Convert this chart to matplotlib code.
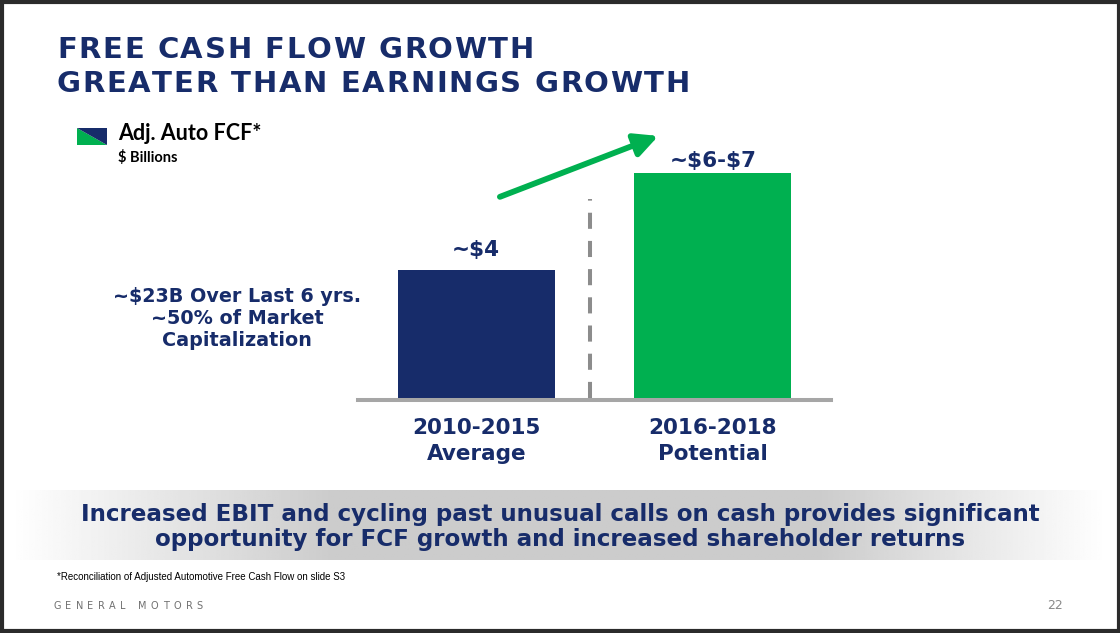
#!/usr/bin/env python3
"""GM slide 22: Adj. Auto FCF, 2010-2015 average vs 2016-2018 potential."""
import matplotlib
matplotlib.use("Agg")
import matplotlib.pyplot as plt
import numpy as np
from matplotlib.font_manager import FontProperties
from matplotlib.patches import Polygon, Rectangle, FancyArrowPatch
from matplotlib.textpath import text_to_path

W, H, DPI = 1120, 633, 100
NAVY = "#172c6a"
GREEN = "#00b050"
GRAY = "#a6a6a6"

CATEGORIES = ["2010-2015\nAverage", "2016-2018\nPotential"]
VALUES = [4.0, 7.0]
VALUE_LABELS = ["~$4", "~$6-$7"]
BAR_COLORS = [NAVY, GREEN]

TITLE = ["FREE CASH FLOW GROWTH", "GREATER THAN EARNINGS GROWTH"]
SIDE_NOTE = "~$23B Over Last 6 yrs.\n~50% of Market\nCapitalization"
BANNER = ("Increased EBIT and cycling past unusual calls on cash provides significant\n"
          "opportunity for FCF growth and increased shareholder returns")
FOOTNOTE = "*Reconciliation of Adjusted Automotive Free Cash Flow on slide S3"


def char_widths(s, fp):
    return [text_to_path.get_text_width_height_descent(c, fp, ismath=False)[0] * DPI / 72
            for c in s]


def tracked(ax, x, y, s, fp, tracking, color):
    for c, w in zip(s, char_widths(s, fp)):
        ax.text(x, y, c, fontproperties=fp, color=color, ha="left", va="baseline",
                parse_math=False)
        x += w + tracking


fig = plt.figure(figsize=(W / DPI, H / DPI), dpi=DPI)
bg = fig.add_axes([0, 0, 1, 1])
bg.axis("off")

# banner gradient
xs = np.linspace(0, W, 600)
prof = np.interp(xs, [10, 330, 820, 1108], [1.0, 0.80, 0.80, 1.0])
bg.imshow(np.tile(prof, (2, 1)), cmap="gray", vmin=0, vmax=1, aspect="auto",
          extent=(0, W, 560, 490), zorder=0)
bg.set_xlim(0, W)
bg.set_ylim(H, 0)

# title with letter spacing
tfp = FontProperties(family="DejaVu Sans", weight="bold", size=21)
wl = char_widths(TITLE[1], tfp)
track = (633 - sum(wl)) / (len(TITLE[1]) - 1)
tracked(bg, 57, 58, TITLE[0], tfp, track, NAVY)
tracked(bg, 57, 92, TITLE[1], tfp, track, NAVY)

# legend swatch
bg.add_patch(Polygon([(77, 128), (77, 145), (107, 145)], closed=True, color=GREEN, lw=0))
bg.add_patch(Polygon([(77, 128), (107, 128), (107, 145)], closed=True, color=NAVY, lw=0))
bg.text(118, 140, "Adj. Auto FCF*", family="Lato", weight="bold", fontsize=15.5,
        color="black", va="baseline", parse_math=False)
bg.text(118, 162, "$ Billions", family="Lato", weight="bold", fontsize=10.5,
        color="black", va="baseline", parse_math=False)

bg.text(237, 319, SIDE_NOTE, family="DejaVu Sans", weight="bold", fontsize=13.8,
        color=NAVY, ha="center", va="center", multialignment="center",
        linespacing=1.2, parse_math=False)

bg.text(560, 527, BANNER, family="DejaVu Sans", weight="bold", fontsize=16.6,
        color=NAVY, ha="center", va="center", multialignment="center",
        linespacing=1.08, parse_math=False)

bg.text(57, 580, FOOTNOTE, family="Liberation Sans", fontsize=7, color="black",
        va="baseline", parse_math=False)
gfp = FontProperties(family="DejaVu Sans", size=7)
gw = char_widths("GENERAL MOTORS", gfp)
tracked(bg, 53, 609, "GENERAL MOTORS", gfp, (150 - sum(gw)) / 13, "#707070")
bg.text(1063, 609, "22", family="DejaVu Sans", fontsize=9, color="#8a8a8a",
        ha="right", va="baseline")

bg.add_patch(Rectangle((1.5, 1.5), W - 3, H - 3.5, fill=False, ec="#2b2b2b", lw=3,
                       zorder=10))

# bar chart
ax = fig.add_axes([358 / W, (H - 400) / H, 473 / W, 290 / H])
ax.set_facecolor("none")
x = np.arange(len(VALUES))
ax.bar(x, VALUES, width=0.662, color=BAR_COLORS, zorder=2)
ax.set_xlim(-0.5, 1.5)
ax.set_ylim(0, 8.95)
ax.axhline(0, color=GRAY, lw=2.9, zorder=3, clip_on=False)
ax.plot([0.48, 0.48], [0.06, 6.2], color="#8c8c8c", lw=2.9, dashes=(4, 3),
        solid_capstyle="butt", dash_capstyle="butt", zorder=1)
pads = [14, 6]
for xi, v, lab, p in zip(x, VALUES, VALUE_LABELS, pads):
    ax.annotate(lab, (xi, v), xytext=(0, p * 72 / DPI), textcoords="offset points",
                ha="center", va="baseline", family="DejaVu Sans", weight="bold",
                fontsize=15.5, color=NAVY, parse_math=False)
arrow = FancyArrowPatch((x[0] + 0.1, VALUES[0] + 2.27), (x[1] - 0.23, VALUES[1] + 1.15),
                        arrowstyle="-|>,head_length=0.7,head_width=0.35",
                        mutation_scale=20, color=GREEN, lw=4.2, shrinkA=0, shrinkB=0)
arrow.set_clip_on(False)
ax.add_patch(arrow)
ax.set_xticks(x)
ax.set_xticklabels(CATEGORIES, family="DejaVu Sans", weight="bold", fontsize=15.5,
                   color=NAVY, linespacing=1.4)
ax.tick_params(axis="x", length=0, pad=13)
ax.set_yticks([])
for s in ax.spines.values():
    s.set_visible(False)

fig.savefig("out.png", dpi=DPI)
